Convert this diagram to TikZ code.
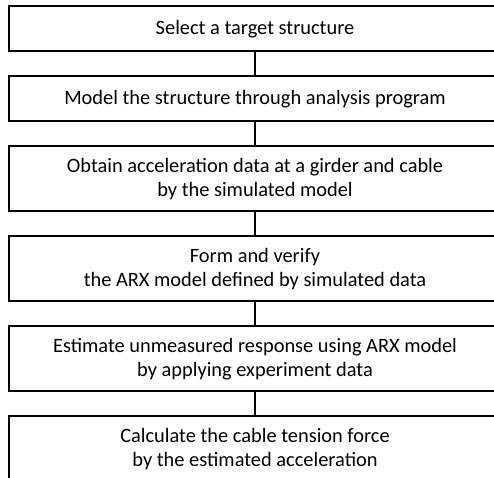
\documentclass[tikz,border=0pt]{standalone}
\usepackage{fontspec}
\setmainfont{Carlito}
\usetikzlibrary{positioning}
\tikzset{
    stepbox/.style={draw, line width=1.2pt, minimum width=369pt, align=center,
        inner sep=0pt, outer sep=0pt, font=\fontsize{15.3}{18}\selectfont},
    onebox/.style={stepbox, minimum height=33.75pt},
    twobox/.style={stepbox, minimum height=48.75pt},
    link/.style={line width=1.2pt}
}
\begin{document}
\begin{tikzpicture}[x=0.75pt, y=0.75pt, node distance=18.75pt]
    \useasboundingbox (0,0) rectangle (494,-478);
    \clip (0,0) rectangle (494,-478);
    % flow of steps
    \node [onebox] (select) at (255,-28.75) {Select a target structure};
    \node [onebox, below=of select] (model) {Model the structure through analysis program};
    \node [twobox, below=of model] (obtain) {Obtain acceleration data at a girder and cable\\by the simulated model};
    \node [twobox, below=of obtain] (arx) {Form and verify\\the ARX model defined by simulated data};
    \node [twobox, below=of arx] (estimate) {Estimate unmeasured response using ARX model\\by applying experiment data};
    \node [twobox, below=of estimate] (tension) {Calculate the cable tension force\\by the estimated acceleration};
    % connectors
    \draw [link] (select) -- (model);
    \draw [link] (model) -- (obtain);
    \draw [link] (obtain) -- (arx);
    \draw [link] (arx) -- (estimate);
    \draw [link] (estimate) -- (tension);
\end{tikzpicture}
\end{document}
